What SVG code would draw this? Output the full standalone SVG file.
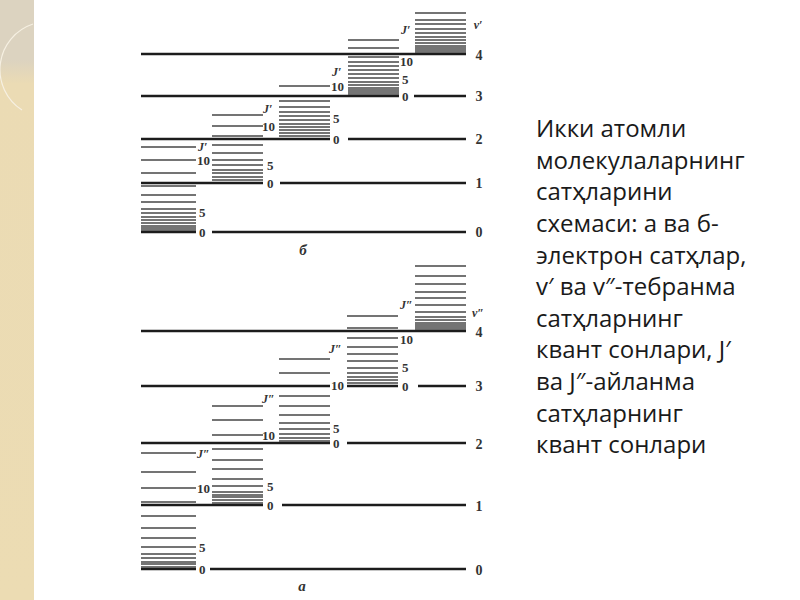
<svg xmlns="http://www.w3.org/2000/svg" width="800" height="600" viewBox="0 0 800 600">
<style>
.lv{stroke:#1c1c1c;stroke-width:2.3;fill:none}
.st{stroke:#474747;stroke-width:1.45;fill:none}
.lb{font-family:"Liberation Serif",serif;font-size:13px;font-weight:bold;fill:#333}
.vn{font-family:"Liberation Serif",serif;font-size:14px;font-weight:bold;fill:#333;text-anchor:middle}
.it{font-family:"Liberation Serif",serif;font-style:italic;font-weight:bold;fill:#333}
.cap{font-family:"Open Sans","Noto Sans",sans-serif;font-size:24px;fill:#1a1a1a}
</style>
<defs>
<linearGradient id="strip" x1="0" y1="0" x2="0" y2="1">
<stop offset="0" stop-color="#dcd3c0"/>
<stop offset="0.1" stop-color="#dcd3c0"/>
<stop offset="0.14" stop-color="#ebdbb4"/>
<stop offset="1" stop-color="#ecdcb3"/>
</linearGradient>
</defs>
<rect width="800" height="600" fill="#ffffff"/>
<rect x="0" y="0" width="34" height="600" fill="url(#strip)"/>
<path d="M33 24 A48 48 0 0 0 22 110" fill="none" stroke="#f6f0e2" stroke-width="1.2"/>

<g id="diagram-b">
<g id="b-levels">
<path class="lv" d="M141 54H466 M141 96H399 M414 96H466 M141 139H330 M348 139H466 M141 183H263 M280 183H466 M141 232H196 M212 232H466"/>
</g>
<g id="b-v0">
<path class="st" d="M141 147H196 M141 160H196 M141 173H196 M141 186H196 M141 195H196 M141 202H196 M141 209H196 M141 213H196 M141 217H196 M141 220H196 M141 223H196 M141 226H196 M141 228H196 M141 230H196"/>
<text class="it" x="198" y="151" font-size="12">J′</text>
<text class="lb" x="197" y="165">10</text>
<text class="lb" x="199" y="217">5</text>
<text class="lb" x="199" y="237">0</text>
</g>
<g id="b-v1">
<path class="st" d="M212 115H263 M212 126H263 M212 136H263 M212 145H263 M212 153H263 M212 160H263 M212 165H263 M212 170H263 M212 173H263 M212 177H263 M212 180H263"/>
<text class="it" x="263" y="113" font-size="12">J′</text>
<text class="lb" x="262" y="131">10</text>
<text class="lb" x="267" y="170">5</text>
<text class="lb" x="267" y="188">0</text>
</g>
<g id="b-v2">
<path class="st" d="M279 86H330 M279 101H330 M279 107H330 M279 112H330 M279 116H330 M279 120H330 M279 124H330 M279 127H330 M279 130H330 M279 133H330 M279 136H330"/>
<text class="it" x="332" y="76" font-size="12">J′</text>
<text class="lb" x="331" y="91">10</text>
<text class="lb" x="333" y="123">5</text>
<text class="lb" x="333" y="144">0</text>
</g>
<g id="b-v3">
<path class="st" d="M348 40H399 M348 48H399 M348 57H399 M348 62H399 M348 66H399 M348 70H399 M348 74H399 M348 78H399 M348 82H399 M348 85H399 M348 88H399 M348 90H399 M348 92H399 M348 94H399"/>
<text class="it" x="401" y="34" font-size="12">J′</text>
<text class="lb" x="400" y="66">10</text>
<text class="lb" x="402" y="84">5</text>
<text class="lb" x="402" y="101">0</text>
</g>
<g id="b-v4">
<path class="st" d="M415 13H466 M415 20H466 M415 24H466 M415 29H466 M415 33H466 M415 37H466 M415 40H466 M415 43H466 M415 46H466 M415 48H466 M415 50H466 M415 52H466"/>
</g>
<g id="b-vlabels">
<text class="it" x="478" y="29" font-size="12" text-anchor="middle">v′</text>
<text class="vn" x="479" y="60">4</text>
<text class="vn" x="479" y="101">3</text>
<text class="vn" x="479" y="144">2</text>
<text class="vn" x="479" y="188">1</text>
<text class="vn" x="479" y="237">0</text>
<text class="it" x="303" y="255" font-size="15" text-anchor="middle">б</text>
</g>
</g>

<g id="diagram-a">
<g id="a-levels">
<path class="lv" d="M141 331H466 M141 386H330 M347 386H398 M418 386H466 M141 443H330 M347 443H466 M141 505H263 M282 505H466 M141 569H196 M210 569H466"/>
</g>
<g id="a-v0">
<path class="st" d="M141 453H196 M141 472H196 M141 488H196 M141 502H196 M141 516H196 M141 528H196 M141 538H196 M141 547H196 M141 554H196 M141 558H196 M141 562H196 M141 564H196 M141 567H196"/>
<text class="it" x="197" y="458" font-size="12">J″</text>
<text class="lb" x="197" y="493">10</text>
<text class="lb" x="199" y="552">5</text>
<text class="lb" x="199" y="574">0</text>
</g>
<g id="a-v1">
<path class="st" d="M212 406H263 M212 420H263 M212 435H263 M212 449H263 M212 460H263 M212 469H263 M212 479H263 M212 486H263 M212 492H263 M212 495H263 M212 497H263 M212 500H263 M212 503H263"/>
<text class="it" x="262" y="403" font-size="12">J″</text>
<text class="lb" x="262" y="440">10</text>
<text class="lb" x="267" y="491">5</text>
<text class="lb" x="267" y="510">0</text>
</g>
<g id="a-v2">
<path class="st" d="M279 359H330 M279 373H330 M279 396H330 M279 406H330 M279 415H330 M279 423H330 M279 429H330 M279 434H330 M279 438H330 M279 441H330"/>
<text class="it" x="329" y="353" font-size="12">J″</text>
<text class="lb" x="331" y="390">10</text>
<text class="lb" x="333" y="433">5</text>
<text class="lb" x="333" y="448">0</text>
</g>
<g id="a-v3">
<path class="st" d="M347 316H398 M347 328H398 M347 338H398 M347 347H398 M347 354H398 M347 361H398 M347 368H398 M347 373H398 M347 377H398 M347 380H398 M347 383H398"/>
<text class="it" x="400" y="309" font-size="12">J″</text>
<text class="lb" x="400" y="344">10</text>
<text class="lb" x="402" y="372">5</text>
<text class="lb" x="402" y="391">0</text>
</g>
<g id="a-v4">
<path class="st" d="M415 266H466 M415 276H466 M415 284H466 M415 292H466 M415 298H466 M415 305H466 M415 312H466 M415 317H466 M415 320H466 M415 323H466 M415 325H466 M415 327H466 M415 329H466"/>
</g>
<g id="a-vlabels">
<text class="it" x="478" y="317" font-size="12" text-anchor="middle">v″</text>
<text class="vn" x="479" y="337">4</text>
<text class="vn" x="479" y="391">3</text>
<text class="vn" x="479" y="449">2</text>
<text class="vn" x="479" y="511">1</text>
<text class="vn" x="479" y="575">0</text>
<text class="it" x="302" y="591" font-size="15" text-anchor="middle">а</text>
</g>
</g>

<g id="caption">
<text class="cap" x="536" y="137">Икки атомли</text>
<text class="cap" x="536" y="169">молекулаларнинг</text>
<text class="cap" x="536" y="200">сатҳларини</text>
<text class="cap" x="536" y="232">схемаси: а ва б-</text>
<text class="cap" x="536" y="264">электрон сатҳлар,</text>
<text class="cap" x="536" y="295">v′ ва v″-тебранма</text>
<text class="cap" x="536" y="327">сатҳларнинг</text>
<text class="cap" x="536" y="358">квант сонлари, J′</text>
<text class="cap" x="536" y="390">ва J″-айланма</text>
<text class="cap" x="536" y="422">сатҳларнинг</text>
<text class="cap" x="536" y="453">квант сонлари</text>
</g>
</svg>
